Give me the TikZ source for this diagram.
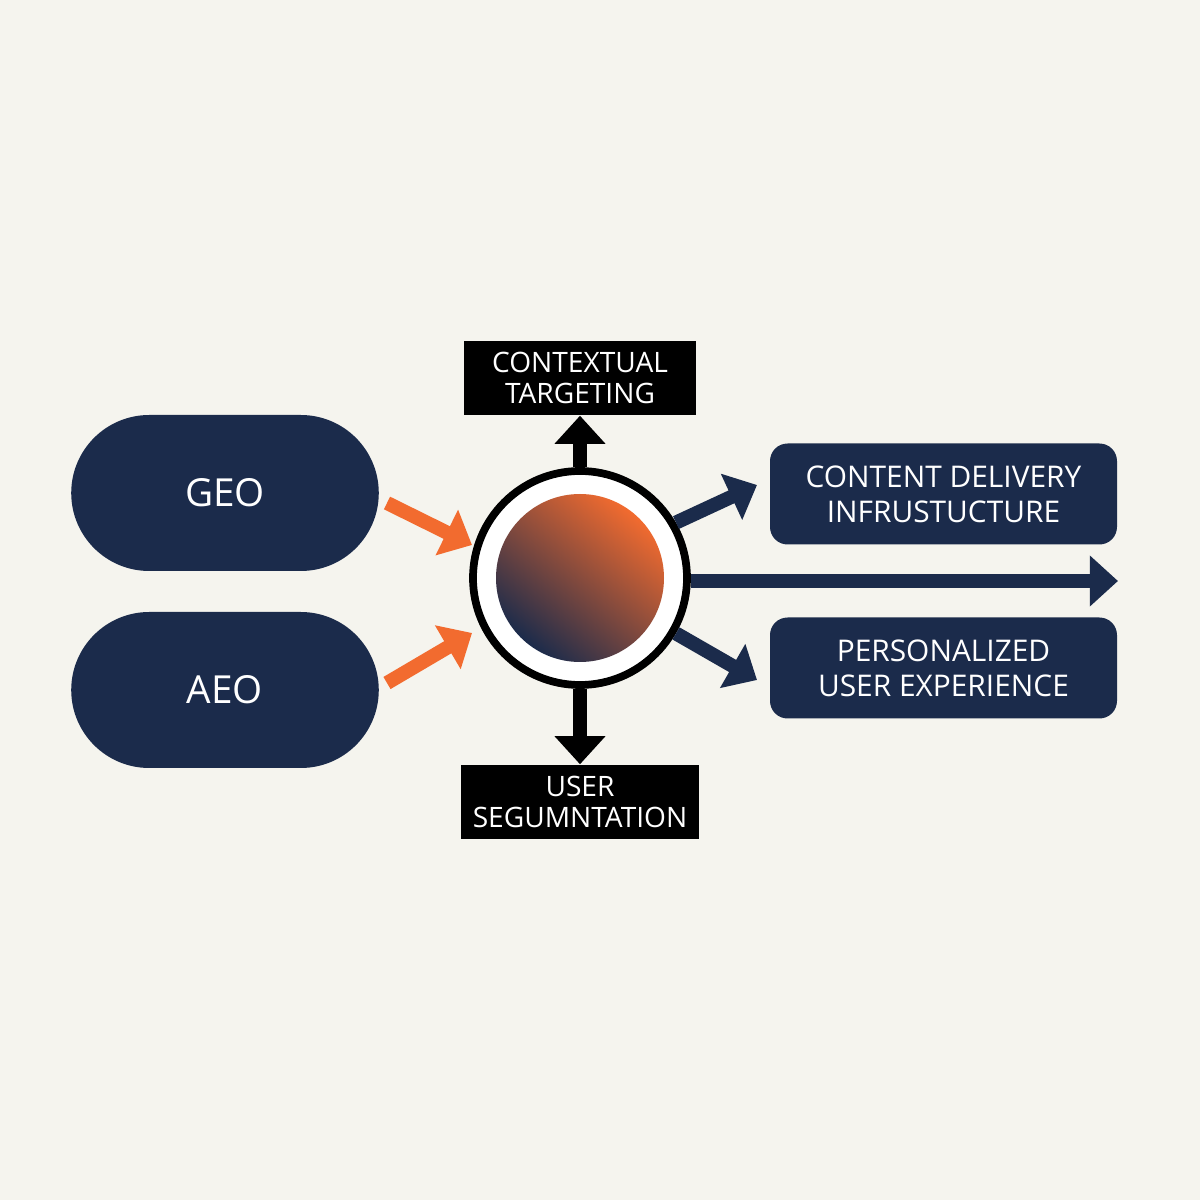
\documentclass[tikz,border=0pt]{standalone}
\usepackage{fontspec}
\setmainfont{Open Sans}
\usetikzlibrary{positioning,arrows.meta,shapes.misc}
\definecolor{bgpaper}{HTML}{F5F4EE}
\definecolor{navy}{HTML}{1B2B4B}
\definecolor{hot}{HTML}{F26B2F}
\begin{document}
\begin{tikzpicture}[
                    pill/.style={rounded rectangle,fill=navy,text=white,minimum width=3.31cm,minimum height=1.56cm,font=\fontsize{11}{13}\selectfont},
                    tag/.style={fill=black,text=white,minimum width=2.32cm,minimum height=0.74cm,inner ysep=1pt,align=center,font=\fontsize{8}{8.8}\selectfont},
                    outbox/.style={rounded corners=5,fill=navy,text=white,minimum width=3.47cm,minimum height=1.01cm,inner ysep=1pt,align=center,font=\fontsize{8.5}{10}\selectfont},
                    inarrow/.style={hot,line width=4pt,-{Triangle[length=8pt,width=14pt]}},
                    outarrow/.style={navy,line width=4pt,-{Triangle[length=8pt,width=14pt]}},
                    blackarrow/.style={black,line width=4pt,-{Triangle[length=8pt,width=14pt]}}
                ]
                    \fill[bgpaper] (0,0) rectangle (12,12);
                    \useasboundingbox (0,0) rectangle (12,12);
                    \node[pill] (geo) at (2.25, 7.07) {GEO};
                    \node[pill] (aeo) at (2.25, 5.10) {AEO};
                    \node[tag] (ctx) at (5.80, 8.22) {CONTEXTUAL\\TARGETING};
                    \node[tag] (seg) at (5.80, 3.98) {USER\\SEGUMNTATION};
                    \node[outbox] (cdi) at (9.435, 7.06) {CONTENT DELIVERY\\INFRUSTUCTURE};
                    \node[outbox] (pux) at (9.435, 5.32) {PERSONALIZED\\USER EXPERIENCE};
                    % hub
                    \node[circle,draw=black,line width=2.2pt,fill=white,minimum size=2.14cm] (hub) at (5.80, 6.22) {};
                    \shade[top color=hot,middle color=hot!90!navy,bottom color=navy,shading angle=-40] (hub.center) circle (0.84);
                    \coordinate (tip) at (11.18, 6.19);
                    % connectors
                    \draw[inarrow] (3.87, 6.97) -- (4.72, 6.55);
                    \draw[inarrow] (3.87, 5.17) -- (4.72, 5.67);
                    \draw[blackarrow] (hub.north) -- (ctx.south);
                    \draw[blackarrow] (hub.south) -- (seg.north);
                    \draw[outarrow] (hub.east |- tip) -- (tip);
                    \draw[outarrow] (hub.30) -- (7.57, 7.15);
                    \draw[outarrow] (hub.-30) -- (7.57, 5.20);
                \end{tikzpicture}
\end{document}
